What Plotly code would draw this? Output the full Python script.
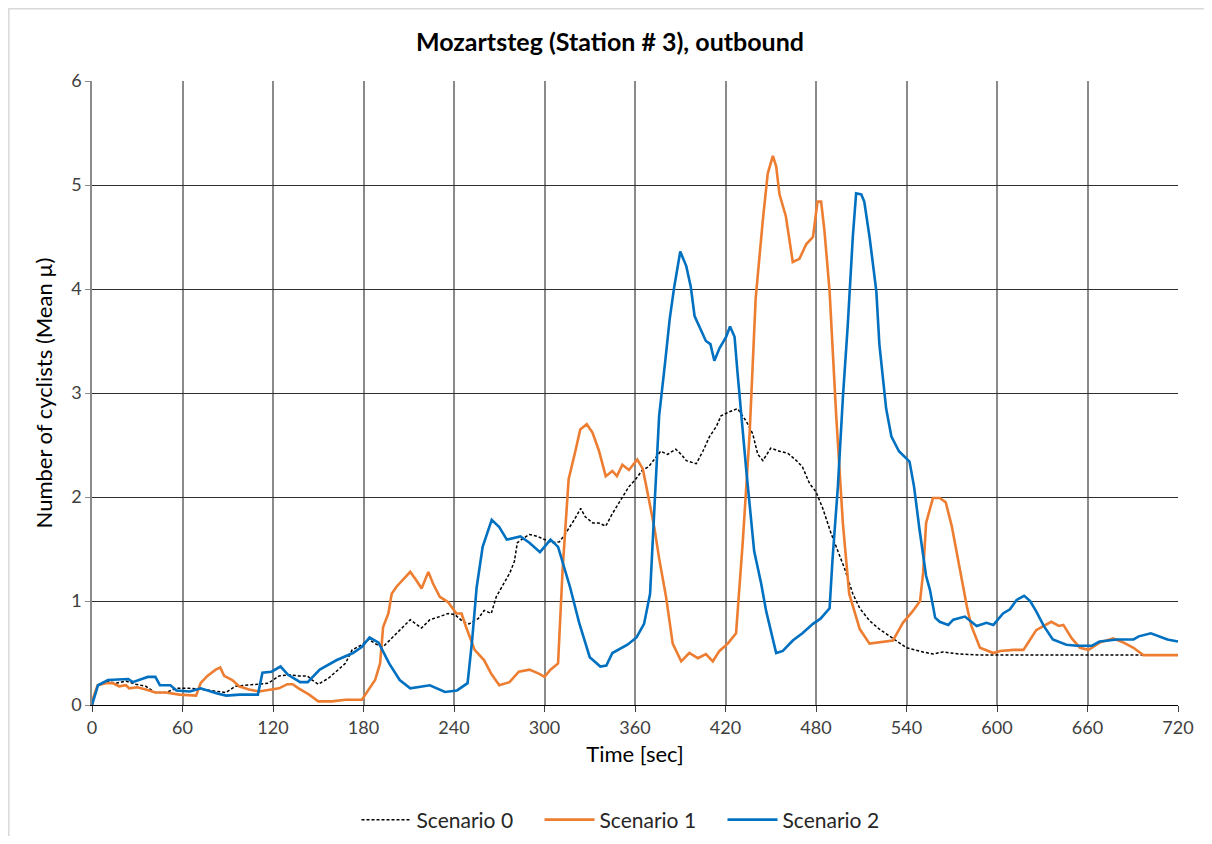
import plotly.graph_objects as go

# ---- data (time in sec, mean number of cyclists) ----
s0_t = [0, 2, 4, 9, 16, 22.5, 29, 35.7, 42, 49, 55.6, 64.4, 73, 82, 88.7, 95, 102, 110.7, 117, 124,
        130.6, 137, 142.7, 146, 150, 157, 161.5, 168, 172.5, 179, 183.5, 189, 193, 200, 206, 211,
        218.5, 224, 230.6, 236, 240.5, 246, 250, 256, 260, 264.7, 268, 272.4, 277, 280, 282, 285.6,
        290, 295.5, 300, 305, 310, 314, 319.7, 324, 327, 332, 336, 340.6, 345, 351.6, 356, 360.4,
        365, 369, 373, 377, 381.6, 387, 390.6, 394, 400.6, 405, 409.4, 414, 417, 422.6, 428, 433.7,
        438, 441.4, 444.8, 450, 455.8, 461.4, 467, 471, 475.7, 480, 484.5, 490, 494.5, 499, 504.4,
        509, 515.5, 522, 531, 540, 551, 557.7, 564, 575, 588.7, 620, 660, 720]
s0_v = [0.0, 0.12, 0.19, 0.23, 0.21, 0.23, 0.20, 0.18, 0.12, 0.12, 0.16, 0.16, 0.15, 0.13, 0.12, 0.18,
        0.19, 0.20, 0.21, 0.28, 0.29, 0.28, 0.28, 0.24, 0.20, 0.26, 0.32, 0.40, 0.53, 0.58, 0.63, 0.58,
        0.56, 0.66, 0.75, 0.82, 0.74, 0.82, 0.85, 0.88, 0.87, 0.80, 0.78, 0.83, 0.91, 0.88, 1.04, 1.15,
        1.27, 1.38, 1.56, 1.60, 1.64, 1.62, 1.59, 1.56, 1.57, 1.65, 1.78, 1.89, 1.81, 1.75, 1.75, 1.72,
        1.84, 2.00, 2.10, 2.17, 2.26, 2.29, 2.37, 2.44, 2.41, 2.46, 2.41, 2.35, 2.32, 2.44, 2.58, 2.68,
        2.78, 2.82, 2.85, 2.73, 2.61, 2.41, 2.35, 2.47, 2.44, 2.42, 2.35, 2.29, 2.13, 2.05, 1.89, 1.65,
        1.48, 1.31, 1.07, 0.93, 0.81, 0.73, 0.64, 0.55, 0.51, 0.49, 0.51, 0.49, 0.48, 0.48, 0.48, 0.48]

s1_t = [0, 0.4, 3.7, 9, 13.7, 18, 22.5, 24.7, 30, 35.7, 42, 49, 58, 69, 72, 76.5, 82, 85, 87.6, 93,
        97.5, 104, 110.7, 119.6, 124, 129.5, 133, 137, 144, 150, 159, 168, 179, 183.5, 187.7, 191,
        193, 196.5, 198.7, 202, 206, 211, 215, 218.5, 223, 226, 230.6, 236, 241.6, 245, 248, 253.7,
        260, 264.7, 270, 276.8, 283, 290, 296.6, 300, 304, 309, 312, 316, 320.6, 323.7, 328, 331.8,
        336, 340.6, 345, 348, 351.6, 356, 361.5, 365.2, 368.5, 373, 376, 380.7, 385, 390.6, 396,
        401.7, 407, 411.6, 416, 421.5, 427, 429, 431.5, 436, 440, 444.8, 448, 451.4, 453.6, 455.8,
        460, 464.6, 469, 473.5, 478, 481, 483.4, 485.6, 489, 493.4, 497.8, 502, 509, 515.5, 524, 531,
        537.6, 544, 549, 551, 553, 557.5, 562, 566, 570, 574, 576.5, 580, 583, 588.7, 597.6, 602, 611,
        617.5, 622, 626, 631, 636, 641, 644, 649.6, 655, 660.7, 668, 677, 684, 690.5, 697, 710.5, 720]
s1_v = [0.0, 0.05, 0.19, 0.21, 0.21, 0.18, 0.19, 0.16, 0.17, 0.15, 0.12, 0.12, 0.10, 0.09, 0.21, 0.28,
        0.34, 0.36, 0.28, 0.24, 0.18, 0.15, 0.13, 0.15, 0.16, 0.20, 0.20, 0.16, 0.10, 0.035, 0.035, 0.05,
        0.05, 0.15, 0.24, 0.40, 0.75, 0.88, 1.07, 1.14, 1.20, 1.28, 1.20, 1.12, 1.28, 1.17, 1.04, 0.99,
        0.88, 0.88, 0.75, 0.53, 0.43, 0.30, 0.19, 0.22, 0.32, 0.34, 0.30, 0.27, 0.34, 0.40, 1.30, 2.17,
        2.45, 2.65, 2.70, 2.62, 2.45, 2.20, 2.25, 2.20, 2.31, 2.26, 2.36, 2.27, 2.03, 1.69, 1.41, 1.03,
        0.59, 0.42, 0.50, 0.45, 0.49, 0.42, 0.52, 0.59, 0.69, 1.07, 1.58, 2.61, 3.91, 4.67, 5.11, 5.28,
        5.18, 4.91, 4.70, 4.26, 4.29, 4.43, 4.50, 4.84, 4.84, 4.56, 3.98, 2.78, 1.75, 1.07, 0.73, 0.59,
        0.61, 0.62, 0.79, 0.90, 1.00, 1.27, 1.75, 1.99, 1.99, 1.95, 1.72, 1.40, 1.21, 0.95, 0.76, 0.55,
        0.50, 0.52, 0.53, 0.53, 0.63, 0.72, 0.76, 0.80, 0.76, 0.77, 0.64, 0.55, 0.53, 0.60, 0.64, 0.60,
        0.55, 0.48, 0.48, 0.48]

s2_t = [0, 4, 10.6, 24, 27, 37, 42, 45, 52, 56, 65, 72, 83, 89, 98, 110, 113, 119, 125, 130, 138, 143,
        151, 162, 173, 179, 184, 190, 197, 204, 211, 224, 234, 242, 249, 252, 255, 259, 265, 270, 275,
        284, 290, 297, 304, 309, 317, 323, 330, 337, 341, 345, 355, 361, 366, 370, 373, 376, 380, 383,
        386, 390, 394, 397, 399.5, 403, 407, 410, 412.6, 416, 420.4, 423, 426, 428, 430.4, 433.7, 439,
        443.6, 447, 451, 453.6, 458, 464.6, 471, 478, 483, 489, 491, 494.5, 497.8, 501, 504.4, 506.6,
        510, 512, 515.5, 520, 522, 526.5, 530, 535, 542, 545, 548.6, 553, 555.5, 559, 562, 567.7, 571,
        578.7, 586.5, 593, 597.6, 604, 608.6, 613, 618, 622, 626, 631, 637, 646, 653, 663, 668, 679.5,
        690.5, 694, 702, 707, 713, 720]
s2_v = [0.0, 0.19, 0.24, 0.25, 0.22, 0.27, 0.27, 0.19, 0.19, 0.14, 0.13, 0.16, 0.11, 0.09, 0.10, 0.10,
        0.31, 0.32, 0.37, 0.29, 0.22, 0.22, 0.34, 0.43, 0.50, 0.56, 0.65, 0.60, 0.40, 0.24, 0.16, 0.19,
        0.125, 0.14, 0.21, 0.62, 1.13, 1.52, 1.78, 1.71, 1.59, 1.62, 1.56, 1.47, 1.59, 1.52, 1.13, 0.79,
        0.46, 0.37, 0.38, 0.50, 0.58, 0.65, 0.78, 1.07, 1.93, 2.78, 3.30, 3.71, 4.02, 4.36, 4.22, 4.02,
        3.74, 3.62, 3.50, 3.47, 3.31, 3.43, 3.54, 3.64, 3.54, 3.19, 2.78, 2.27, 1.48, 1.17, 0.90, 0.66,
        0.50, 0.52, 0.62, 0.69, 0.78, 0.83, 0.93, 1.41, 2.10, 2.95, 3.64, 4.50, 4.92, 4.91, 4.84, 4.50,
        3.98, 3.47, 2.85, 2.58, 2.44, 2.34, 2.10, 1.69, 1.24, 1.11, 0.84, 0.80, 0.77, 0.82, 0.85, 0.76,
        0.79, 0.77, 0.88, 0.92, 1.01, 1.05, 1.00, 0.90, 0.76, 0.63, 0.58, 0.57, 0.57, 0.61, 0.63, 0.63,
        0.66, 0.69, 0.66, 0.63, 0.61]

series_names = ["Scenario 0", "Scenario 1", "Scenario 2"]
x_ticks = [0, 60, 120, 180, 240, 300, 360, 420, 480, 540, 600, 660, 720]
y_ticks = [0, 1, 2, 3, 4, 5, 6]

FONT = "Lato"
W, H = 1196, 828          # page body adds an 8px offset
PL, PT, PW, PH = 84, 73, 1086, 624   # plot area inside the figure


def px_x(fx):
    return (fx - PL) / PW


def px_y(fy):
    return (PT + PH - fy) / PH


fig = go.Figure()
fig.add_trace(go.Scatter(x=s0_t, y=s0_v, mode="lines", name=series_names[0],
                         line=dict(color="#000000", width=1.5, dash="3px,2px")))
fig.add_trace(go.Scatter(x=s1_t, y=s1_v, mode="lines", name=series_names[1],
                         line=dict(color="#ED7D31", width=2.6)))
fig.add_trace(go.Scatter(x=s2_t, y=s2_v, mode="lines", name=series_names[2],
                         line=dict(color="#0070C0", width=2.6)))

fig.update_layout(
    width=W, height=H,
    paper_bgcolor="white", plot_bgcolor="white",
    margin=dict(l=PL, r=W - PL - PW, t=PT, b=H - PT - PH, autoexpand=False),
    font=dict(family=FONT, size=18, color="#404040"),
    title=dict(text="<b>Mozartsteg (Station # 3), outbound</b>",
               x=602 / W, xref="container", xanchor="center",
               y=1 - 34 / H, yref="container", yanchor="middle",
               font=dict(family=FONT, size=25, color="#000000")),
    legend=dict(orientation="h", x=px_x(623), xanchor="center", y=px_y(812), yanchor="middle",
                font=dict(family=FONT, size=21, color="#262626"), bgcolor="rgba(0,0,0,0)",
                traceorder="normal", itemwidth=50, entrywidth=118, entrywidthmode="pixels"),
    showlegend=True,
)

fig.update_xaxes(
    range=[0, 720], tickmode="array", tickvals=x_ticks,
    showgrid=True, gridcolor="#8a8a8a", gridwidth=1.5,
    zeroline=False, showline=True, linecolor="#000000", linewidth=1,
    ticks="outside", ticklen=6, tickcolor="#404040",
    tickfont=dict(family=FONT, size=18, color="#404040"),
    title=dict(text="Time [sec]", font=dict(family=FONT, size=22, color="#000000"), standoff=10),
)
fig.update_yaxes(
    range=[0, 6], tickmode="array", tickvals=y_ticks,
    showgrid=True, gridcolor="#303030", gridwidth=1,
    zeroline=False, showline=True, linecolor="#8a8a8a", linewidth=1.5,
    ticks="outside", ticklen=5, tickcolor="#8a8a8a",
    tickfont=dict(family=FONT, size=18, color="#404040"),
    title=dict(text="Number of cyclists (Mean µ)", font=dict(family=FONT, size=22, color="#000000"),
               standoff=12),
)

# outer chart-area frame
fig.add_shape(type="rect", xref="paper", yref="paper",
              x0=px_x(0.8), x1=px_x(W + 10),
              y0=px_y(H + 10), y1=px_y(0.8),
              line=dict(color="#d9d9d9", width=1.5), fillcolor="rgba(0,0,0,0)", layer="below")

fig.write_html("out.html")
